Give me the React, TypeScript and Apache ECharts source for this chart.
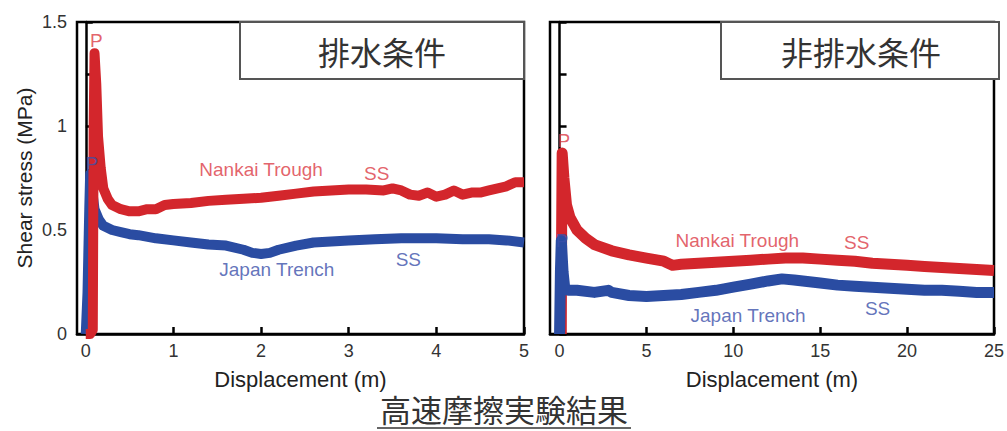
import React, { useEffect, useRef } from "react";
import * as echarts from "echarts";

const leftXTicks = [0, 1, 2, 3, 4, 5];
const rightXTicks = [0, 5, 10, 15, 20, 25];

const leftNankai: [number, number][] = [
  [0, 0], [0.05, 0], [0.08, 0.02], [0.09, 1.0], [0.1, 1.35], [0.12, 1.2], [0.14, 0.95], [0.17, 0.8],
  [0.2, 0.7], [0.25, 0.65], [0.3, 0.62], [0.4, 0.6], [0.5, 0.59], [0.6, 0.59], [0.7, 0.6], [0.8, 0.6],
  [0.9, 0.62], [1.0, 0.625], [1.2, 0.63], [1.4, 0.64], [1.6, 0.645], [1.8, 0.65], [2.0, 0.655],
  [2.2, 0.665], [2.4, 0.675], [2.6, 0.685], [2.8, 0.69], [3.0, 0.695], [3.2, 0.695], [3.4, 0.69],
  [3.5, 0.7], [3.6, 0.69], [3.7, 0.67], [3.8, 0.665], [3.9, 0.68], [4.0, 0.66], [4.1, 0.67],
  [4.2, 0.69], [4.3, 0.67], [4.4, 0.68], [4.5, 0.68], [4.6, 0.69], [4.7, 0.7], [4.8, 0.71],
  [4.9, 0.73], [5.0, 0.73],
];

const leftJapan: [number, number][] = [
  [0, 0], [0.02, 0.2], [0.04, 0.6], [0.05, 0.77], [0.07, 0.7], [0.1, 0.6], [0.15, 0.55], [0.2, 0.52],
  [0.3, 0.5], [0.4, 0.49], [0.5, 0.48], [0.6, 0.475], [0.8, 0.46], [1.0, 0.45], [1.2, 0.44],
  [1.4, 0.43], [1.6, 0.425], [1.8, 0.405], [1.9, 0.39], [2.0, 0.385], [2.1, 0.39], [2.2, 0.405],
  [2.4, 0.425], [2.6, 0.44], [2.8, 0.445], [3.0, 0.45], [3.3, 0.455], [3.6, 0.46], [4.0, 0.46],
  [4.3, 0.455], [4.6, 0.455], [4.8, 0.45], [5.0, 0.44],
];

const rightNankai: [number, number][] = [
  [0.1, 0], [0.12, 0.5], [0.15, 0.87], [0.25, 0.75], [0.4, 0.62], [0.6, 0.56], [1, 0.5], [1.5, 0.46],
  [2, 0.43], [3, 0.4], [4, 0.38], [5, 0.365], [6, 0.35], [6.5, 0.33], [7, 0.335], [8, 0.34],
  [9, 0.345], [10, 0.35], [11, 0.355], [12, 0.36], [13, 0.365], [14, 0.365], [15, 0.36], [16, 0.355],
  [17, 0.35], [18, 0.34], [19, 0.335], [20, 0.33], [21, 0.325], [22, 0.32], [23, 0.315], [24, 0.31],
  [25, 0.305],
];

const rightJapan: [number, number][] = [
  [0, 0], [0.05, 0.3], [0.1, 0.45], [0.2, 0.3], [0.3, 0.22], [0.5, 0.21], [1, 0.21], [2, 0.2],
  [2.8, 0.21], [3, 0.2], [4, 0.185], [5, 0.18], [6, 0.185], [7, 0.19], [8, 0.2], [9, 0.21],
  [10, 0.225], [11, 0.24], [12, 0.255], [12.8, 0.265], [13.5, 0.26], [14, 0.255], [15, 0.245],
  [16, 0.235], [17, 0.23], [18, 0.225], [19, 0.22], [20, 0.215], [21, 0.21], [22, 0.21],
  [23, 0.205], [24, 0.2], [25, 0.2],
];

// annotations: [x, y, text]
const leftRedNotes: [number, number, string][] = [
  [0.12, 1.41, "P"], [2.0, 0.79, "Nankai Trough"], [3.32, 0.77, "SS"],
];
const leftBlueNotes: [number, number, string][] = [
  [0.07, 0.82, "P"], [2.18, 0.31, "Japan Trench"], [3.68, 0.36, "SS"],
];
const rightRedNotes: [number, number, string][] = [
  [0.25, 0.93, "P"], [10.23, 0.45, "Nankai Trough"], [17.1, 0.44, "SS"],
];
const rightBlueNotes: [number, number, string][] = [
  [0.15, 0.45, "P"], [10.85, 0.087, "Japan Trench"], [18.3, 0.125, "SS"],
];

const leftTitle = "排水条件";
const rightTitle = "非排水条件";
const bottomTitle = "高速摩擦実験結果";
const xName = "Displacement (m)";
const yName = "Shear stress (MPa)";

const RED = "#d3262c";
const BLUE = "#2a4ca2";
const RED_TXT = "#dc3a45";
const BLUE_TXT = "#3b50aa";
const FONT = "'Liberation Sans', Arial, sans-serif";
const CJK = "'Noto Sans CJK JP', sans-serif";

export default function App() {
  const ref = useRef<HTMLDivElement>(null);
  useEffect(() => {
    document.body.style.margin = "0";
    if (!ref.current) return;
    const chart = echarts.init(ref.current, null, { renderer: "svg" });

    const grids = [
      { left: 77, top: 22, width: 447, height: 312 },
      { left: 550, top: 22, width: 449, height: 312 },
    ];

    const mkX = (gi: number, min: number, max: number, ticks: number[]) => ({
      type: "value",
      gridIndex: gi,
      min,
      max,
      name: xName,
      nameLocation: "middle",
      nameGap: 34,
      nameTextStyle: { fontFamily: FONT, fontSize: 22, color: "#222" },
      axisLine: { show: true, onZero: false, lineStyle: { color: "#000", width: 2.5 } },
      axisTick: { show: true, inside: true, length: 7, customValues: ticks, lineStyle: { color: "#000", width: 2.5 } },
      axisLabel: { show: true, customValues: ticks, margin: 8, fontFamily: FONT, fontSize: 18, color: "#333" },
      splitLine: { show: false },
    });

    const mkY = (gi: number, labels: boolean) => ({
      type: "value",
      gridIndex: gi,
      min: 0,
      max: 1.5,
      interval: 0.25,
      name: labels ? yName : "",
      nameLocation: "middle",
      nameGap: 42,
      nameTextStyle: { fontFamily: FONT, fontSize: 21, color: "#222" },
      axisLine: { show: true, lineStyle: { color: "#000", width: 2.5 } },
      axisTick: { show: true, inside: true, length: 7, lineStyle: { color: "#000", width: 2.5 } },
      axisLabel: {
        show: labels,
        margin: 10,
        fontFamily: FONT,
        fontSize: 18,
        color: "#333",
        formatter: (v: number) => (Math.abs(v * 2 - Math.round(v * 2)) < 1e-6 ? String(v) : ""),
      },
      splitLine: { show: false },
    });

    const lineSeries = (data: [number, number][], color: string, gi: number, w: number) => ({
      type: "line",
      xAxisIndex: gi,
      yAxisIndex: gi,
      data,
      showSymbol: false,
      symbol: "none",
      lineStyle: { color, width: w, join: "round" },
      z: 3,
    });

    const noteSeries = (notes: [number, number, string][], color: string, gi: number) => ({
      type: "scatter",
      xAxisIndex: gi,
      yAxisIndex: gi,
      symbolSize: 0,
      data: notes.map((n) => ({ value: [n[0], n[1]], name: n[2] })),
      label: {
        show: true,
        position: "inside",
        formatter: (p: any) => p.name,
        fontFamily: FONT,
        fontSize: 19,
        color,
      },
      z: 5,
      silent: true,
    });

    chart.setOption({
      animation: false,
      backgroundColor: "#fff",
      grid: grids.map((g) => ({ ...g, show: true, borderColor: "#000", borderWidth: 2.5, backgroundColor: "transparent" })),
      xAxis: [mkX(0, -0.1, 5, leftXTicks), mkX(1, -0.55, 25, rightXTicks)],
      yAxis: [mkY(0, true), mkY(1, false)],
      series: [
        lineSeries(leftJapan, BLUE, 0, 10),
        lineSeries(leftNankai, RED, 0, 10),
        lineSeries(rightNankai, RED, 1, 11),
        lineSeries(rightJapan, BLUE, 1, 11),
        noteSeries(leftRedNotes, RED_TXT, 0),
        noteSeries(leftBlueNotes, BLUE_TXT, 0),
        noteSeries(rightRedNotes, RED_TXT, 1),
        noteSeries(rightBlueNotes, BLUE_TXT, 1),
      ],
      graphic: [
        {
          type: "rect",
          shape: { x: 240, y: 22, width: 284, height: 57 },
          style: { fill: "#fff", stroke: "#555", lineWidth: 2 },
          z: 10,
        },
        {
          type: "text",
          x: 382,
          y: 51,
          style: { text: leftTitle, font: `32px ${CJK}`, fill: "#333", align: "center", verticalAlign: "middle" },
          z: 11,
        },
        {
          type: "rect",
          shape: { x: 721, y: 22, width: 278, height: 57 },
          style: { fill: "#fff", stroke: "#555", lineWidth: 2 },
          z: 10,
        },
        {
          type: "text",
          x: 861,
          y: 51,
          style: { text: rightTitle, font: `32px ${CJK}`, fill: "#333", align: "center", verticalAlign: "middle" },
          z: 11,
        },
        {
          type: "text",
          x: 504,
          y: 408,
          style: {
            text: bottomTitle,
            font: `31px ${CJK}`,
            fill: "#333",
            align: "center",
            verticalAlign: "middle",
          },
          z: 11,
        },
        {
          type: "line",
          shape: { x1: 377, y1: 428, x2: 631, y2: 428 },
          style: { stroke: "#333", lineWidth: 1.5 },
          z: 11,
        },
      ],
    });
    return () => chart.dispose();
  }, []);
  return <div ref={ref} style={{ width: 1007, height: 431 }} />;
}
